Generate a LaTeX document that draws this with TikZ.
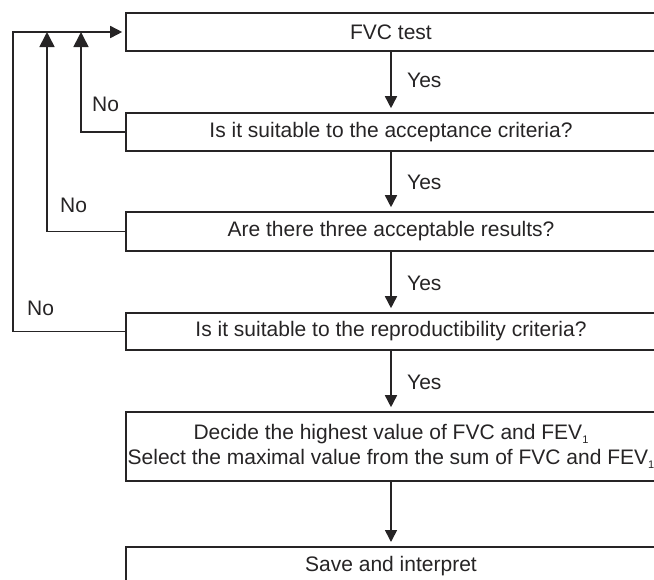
\documentclass[tikz,border=0pt]{standalone}
\usepackage{fontspec}
\setmainfont{Liberation Sans}
\usetikzlibrary{arrows.meta}
\definecolor{ink}{RGB}{38,36,37}
\newcommand\subone{\raisebox{-4pt}{\fontsize{11}{11}\selectfont 1}}
\begin{document}
\begin{tikzpicture}[x=1pt,y=-1pt,
  box/.style={draw=ink,line width=1.6pt,minimum width=530pt,inner sep=0pt,
    text=ink,font=\fontsize{21}{25}\selectfont,align=center},
  lbl/.style={text=ink,font=\fontsize{21}{25}\selectfont,inner sep=0pt},
  conn/.style={draw=ink,line width=1.6pt},
  arr/.style={conn,-{Triangle[length=12pt,width=12pt]}},
  uparr/.style={conn,-{Triangle[length=15pt,width=15pt]}}]
\useasboundingbox (0,0) rectangle (654,579);
\clip (0,0) rectangle (654,579);
\node[box,minimum height=38pt] (b1) at (391,32) {FVC test};
\node[box,minimum height=38pt] (b2) at (391,132) {Is it suitable to the acceptance criteria?};
\node[box,minimum height=39pt] (b3) at (391,231.5) {Are there three acceptable results?};
\node[box,minimum height=37pt] (b4) at (391,331.5) {Is it suitable to the reproductibility criteria?};
\node[box,minimum height=69pt] (b5) at (391,446.5) {Decide the highest value of FVC and FEV\subone\\Select the maximal value from the sum of FVC and FEV\subone};
\node[box,minimum height=38pt,anchor=north] (b6) at (391,546) {\raisebox{1pt}{Save and interpret}};
% yes arrows
\draw[arr,shorten >=4pt] (b1.south) -- (b2.north);
\draw[arr,shorten >=4pt] (b2.south) -- (b3.north);
\draw[arr,shorten >=4pt] (b3.south) -- (b4.north);
\draw[arr,shorten >=4pt] (b4.south) -- (b5.north);
\draw[arr,shorten >=4pt] (b5.south) -- (b6.north);
\node[lbl,anchor=west] (y1) at (407,80) {Yes};
\node[lbl,anchor=west] (y2) at (407,182) {Yes};
\node[lbl,anchor=west] (y3) at (407,283) {Yes};
\node[lbl,anchor=west] (y4) at (407,382) {Yes};
% feedback loops
\coordinate (t1) at (81,32);
\coordinate (t2) at (47,32);
\draw[uparr] (b2.west) -| (t1);
\draw[uparr] (b3.west) -| (t2);
\draw[arr,shorten >=3pt] (b4.west) -| (13,32) -- (b1.west);
\node[lbl,anchor=west] (n1) at (92,104) {No};
\node[lbl,anchor=west] (n2) at (60,205) {No};
\node[lbl,anchor=west] (n3) at (27,308) {No};
\end{tikzpicture}
\end{document}
